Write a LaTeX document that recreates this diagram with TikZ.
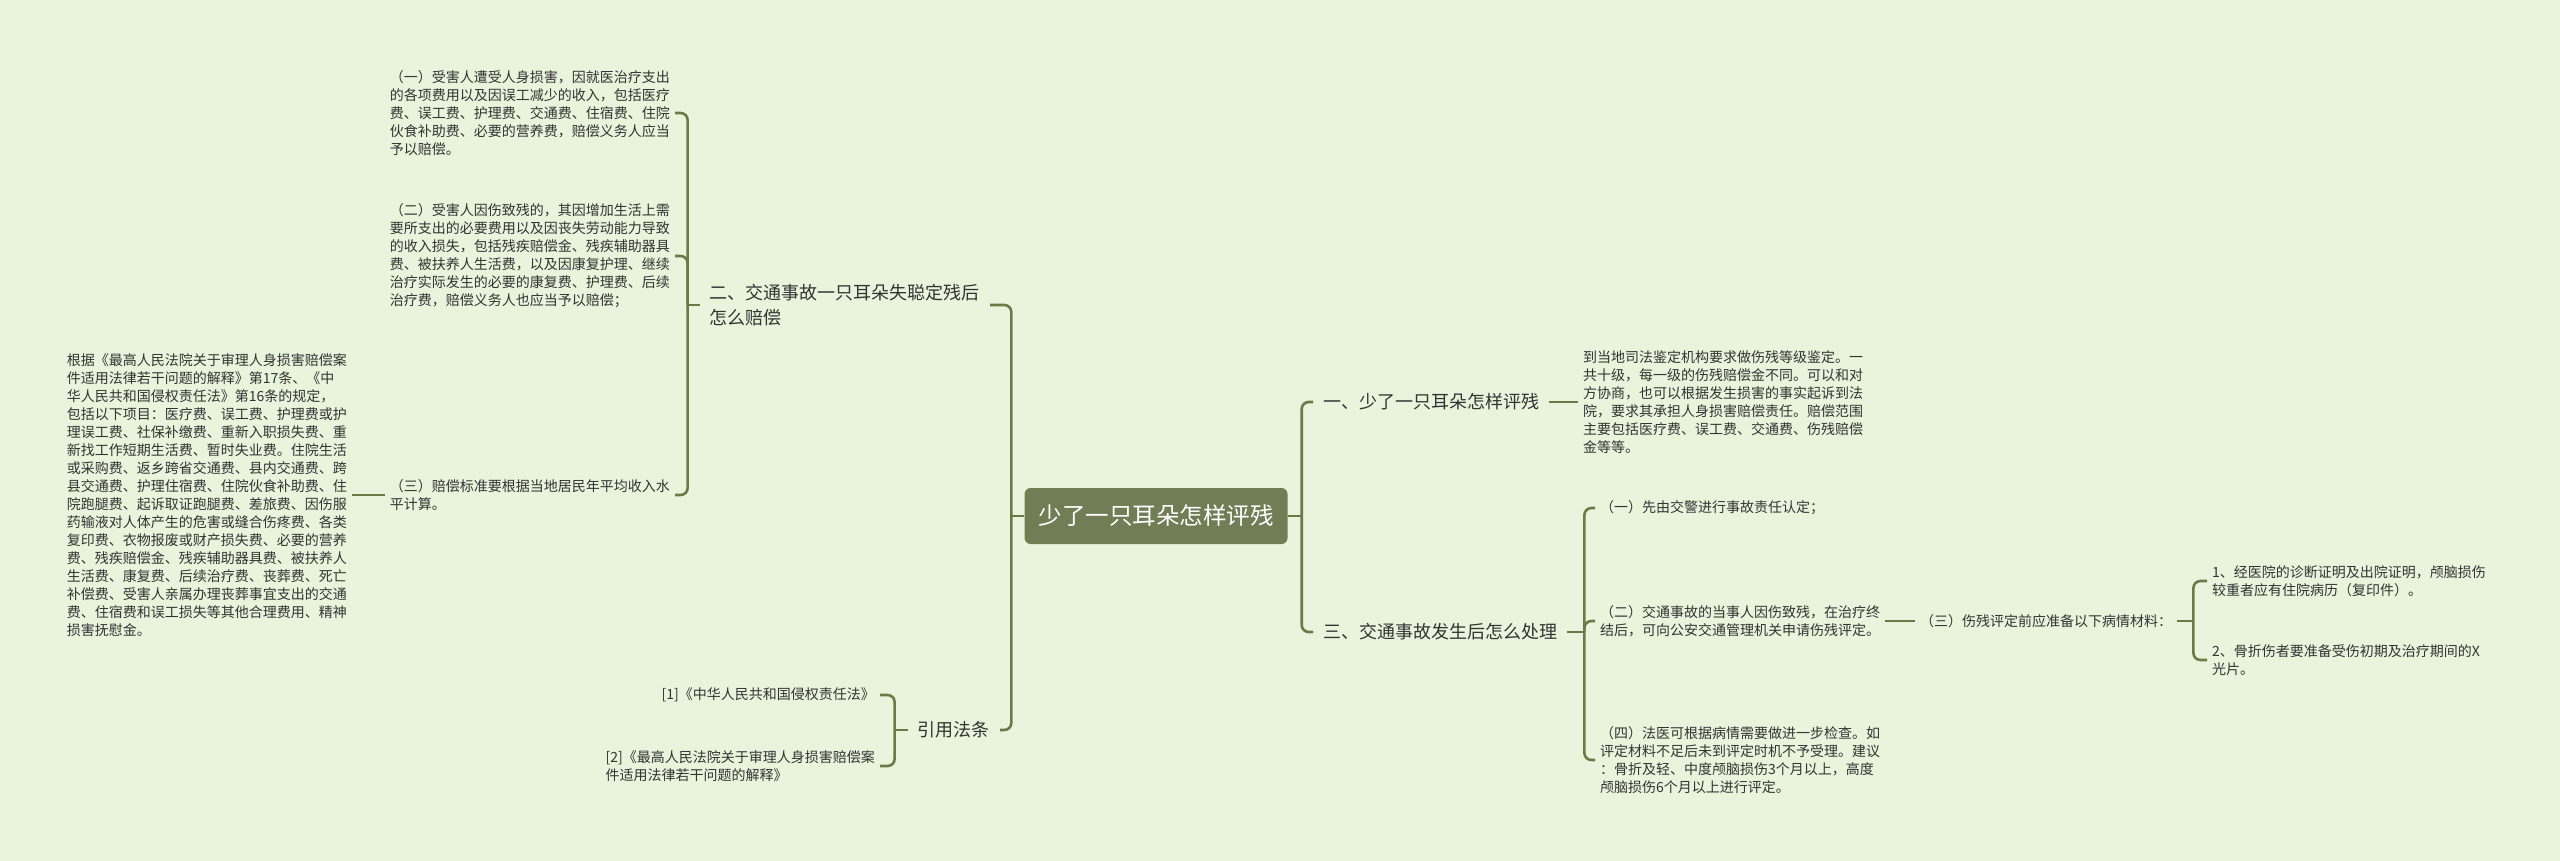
\documentclass[tikz,border=0pt]{standalone}
\usepackage{fontspec}
\setmainfont{Noto Sans CJK SC}
\definecolor{hinter}{HTML}{E8F4DC}
\definecolor{astfarbe}{HTML}{6C7A48}
\definecolor{wurzelfarbe}{HTML}{717D55}
\definecolor{schrift}{HTML}{333333}

\def\kante#1#2{
	\draw[linie] (#1.east) -- (#2.west);
}
\def\kanteL#1#2{
	\draw[linie] (#1.west) -- (#2.east);
}
\def\zweigR#1#2#3{
	\draw[linie] (#1.east) -- ++(#2,0) coordinate (#1-r);
	\foreach \k in {#3} {\draw[linie,rounded corners=7] (#1-r) |- (\k.west);}
}
\def\zweigL#1#2#3{
	\draw[linie] (#1.west) -- ++(-#2,0) coordinate (#1-l);
	\foreach \k in {#3} {\draw[linie,rounded corners=7] (#1-l) |- (\k.east);}
}

\begin{document}
\begin{tikzpicture}[x=1pt,y=-1pt,
	linie/.style={draw=astfarbe,line width=2.6pt},
	wurzel/.style={fill=wurzelfarbe,text=white,rounded corners=6,font=\fontsize{23.5}{28}\selectfont,minimum width=263,minimum height=56},
	haupt/.style={text=schrift,font=\fontsize{18}{25}\selectfont,align=left,inner xsep=10,inner ysep=3},
	blatt/.style={text=schrift,font=\fontsize{14}{18}\selectfont,align=left,inner xsep=5,inner ysep=2}]
\fill[hinter] (0,0) rectangle (2560,861);
\node[wurzel] (root) at (1156,516) {少了一只耳朵怎样评残};
% rechte Seite
\node[haupt,anchor=west] (r1) at (1313,402) {一、少了一只耳朵怎样评残};
\node[haupt,anchor=west] (r3) at (1313,632) {三、交通事故发生后怎么处理};
\node[blatt,anchor=west] (r1a) at (1578,402) {到当地司法鉴定机构要求做伤残等级鉴定。一\\共十级，每一级的伤残赔偿金不同。可以和对\\方协商，也可以根据发生损害的事实起诉到法\\院，要求其承担人身损害赔偿责任。赔偿范围\\主要包括医疗费、误工费、交通费、伤残赔偿\\金等等。};
\node[blatt,anchor=west] (r3a) at (1595,508) {（一）先由交警进行事故责任认定；};
\node[blatt,anchor=west] (r3b) at (1595,621) {（二）交通事故的当事人因伤致残，在治疗终\\结后，可向公安交通管理机关申请伤残评定。};
\node[blatt,anchor=west] (r3d) at (1595,760) {（四）法医可根据病情需要做进一步检查。如\\评定材料不足后未到评定时机不予受理。建议\\：骨折及轻、中度颅脑损伤3个月以上，高度\\颅脑损伤6个月以上进行评定。};
\node[blatt,anchor=west] (r3c) at (1915,621) {（三）伤残评定前应准备以下病情材料：};
\node[blatt,anchor=west] (r3c1) at (2207,581) {1、经医院的诊断证明及出院证明，颅脑损伤\\较重者应有住院病历（复印件）。};
\node[blatt,anchor=west] (r3c2) at (2207,660) {2、骨折伤者要准备受伤初期及治疗期间的X\\光片。};
\zweigR{root}{14}{r1,r3}
\kante{r1}{r1a}
\zweigR{r3}{17}{r3a,r3b,r3d}
\kante{r3b}{r3c}
\zweigR{r3c}{16}{r3c1,r3c2}
% linke Seite
\node[haupt,anchor=east] (l2) at (990,305) {二、交通事故一只耳朵失聪定残后\\怎么赔偿};
\node[haupt,anchor=east] (lq) at (1000,730) {引用法条};
\node[blatt,anchor=east] (l2a) at (675,113) {（一）受害人遭受人身损害，因就医治疗支出\\的各项费用以及因误工减少的收入，包括医疗\\费、误工费、护理费、交通费、住宿费、住院\\伙食补助费、必要的营养费，赔偿义务人应当\\予以赔偿。};
\node[blatt,anchor=east] (l2b) at (675,256) {（二）受害人因伤致残的，其因增加生活上需\\要所支出的必要费用以及因丧失劳动能力导致\\的收入损失，包括残疾赔偿金、残疾辅助器具\\费、被扶养人生活费，以及因康复护理、继续\\治疗实际发生的必要的康复费、护理费、后续\\治疗费，赔偿义务人也应当予以赔偿；};
\node[blatt,anchor=east] (l2c) at (675,495) {（三）赔偿标准要根据当地居民年平均收入水\\平计算。};
\node[blatt,anchor=east] (lz) at (352,495) {根据《最高人民法院关于审理人身损害赔偿案\\件适用法律若干问题的解释》第17条、《中\\华人民共和国侵权责任法》第16条的规定，\\包括以下项目：医疗费、误工费、护理费或护\\理误工费、社保补缴费、重新入职损失费、重\\新找工作短期生活费、暂时失业费。住院生活\\或采购费、返乡跨省交通费、县内交通费、跨\\县交通费、护理住宿费、住院伙食补助费、住\\院跑腿费、起诉取证跑腿费、差旅费、因伤服\\药输液对人体产生的危害或缝合伤疼费、各类\\复印费、衣物报废或财产损失费、必要的营养\\费、残疾赔偿金、残疾辅助器具费、被扶养人\\生活费、康复费、后续治疗费、丧葬费、死亡\\补偿费、受害人亲属办理丧葬事宜支出的交通\\费、住宿费和误工损失等其他合理费用、精神\\损害抚慰金。};
\node[blatt,anchor=east] (q1) at (880,695) {[1]《中华人民共和国侵权责任法》};
\node[blatt,anchor=east] (q2) at (880,766) {[2]《最高人民法院关于审理人身损害赔偿案\\件适用法律若干问题的解释》};
\zweigL{root}{13}{l2,lq}
\zweigL{l2}{12}{l2a,l2b,l2c}
\kanteL{l2c}{lz}
\zweigL{lq}{13}{q1,q2}
\end{tikzpicture}
\end{document}
